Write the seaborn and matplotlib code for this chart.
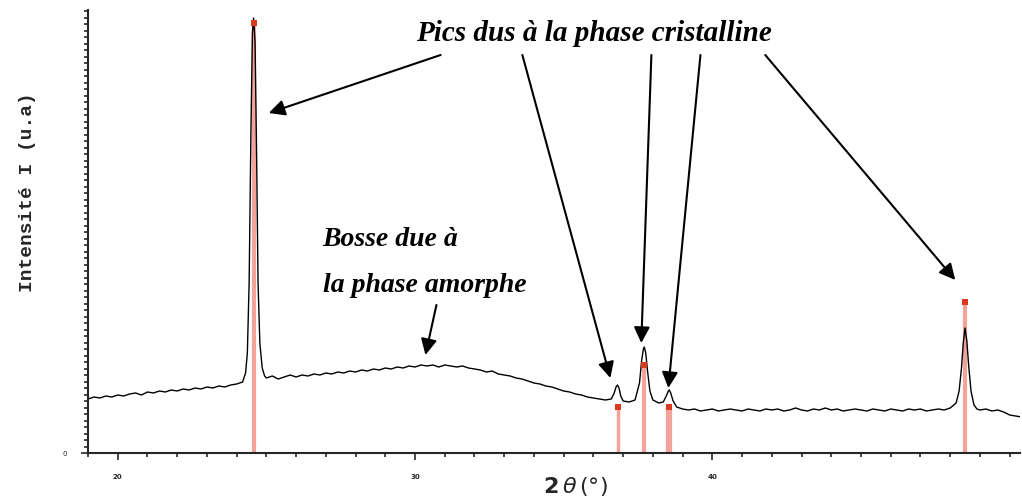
import numpy as np
import pandas as pd
import matplotlib
matplotlib.use("Agg")
import matplotlib.pyplot as plt
import seaborn as sns

# diffractogram: 2theta (deg) and intensity (arb. units)
two_theta = [
    19.0, 19.2, 19.4, 19.6, 19.8, 20.0, 20.2, 20.4, 20.6, 20.8,
    21.0, 21.2, 21.4, 21.6, 21.8, 22.0, 22.2, 22.4, 22.6, 22.8,
    23.0, 23.2, 23.4, 23.6, 23.8, 24.0, 24.2,
    24.3, 24.36, 24.42, 24.48, 24.53, 24.57, 24.62, 24.67, 24.72, 24.78, 24.86, 24.94,
    25.0, 25.2, 25.4, 25.6, 25.8, 26.0, 26.2, 26.4, 26.6, 26.8,
    27.0, 27.2, 27.4, 27.6, 27.8, 28.0, 28.2, 28.4, 28.6, 28.8,
    29.0, 29.2, 29.4, 29.6, 29.8, 30.0, 30.2, 30.4, 30.6, 30.8,
    31.0, 31.2, 31.4, 31.6, 31.8, 32.0, 32.2, 32.4, 32.6, 32.8,
    33.0, 33.2, 33.4, 33.6, 33.8, 34.0, 34.2, 34.4, 34.6, 34.8,
    35.0, 35.2, 35.4, 35.6, 35.8, 36.0, 36.2, 36.4, 36.6,
    36.7, 36.76, 36.81, 36.86, 36.92, 37.0, 37.2, 37.4,
    37.55, 37.62, 37.68, 37.71, 37.76, 37.82, 37.9, 38.0, 38.2, 38.35,
    38.45, 38.52, 38.55, 38.6, 38.68, 38.8, 39.0,
    39.2, 39.4, 39.6, 39.8, 40.0, 40.2, 40.4, 40.6, 40.8,
    41.0, 41.2, 41.4, 41.6, 41.8, 42.0, 42.2, 42.4, 42.6, 42.8,
    43.0, 43.2, 43.4, 43.6, 43.8, 44.0, 44.2, 44.4, 44.6, 44.8,
    45.0, 45.2, 45.4, 45.6, 45.8, 46.0, 46.2, 46.4, 46.6, 46.8,
    47.0, 47.2, 47.4, 47.6, 47.8, 48.0, 48.2,
    48.3, 48.38, 48.44, 48.5, 48.56, 48.62, 48.7, 48.8, 48.9,
    49.0, 49.2, 49.4, 49.6, 49.8, 50.0, 50.2, 50.4,
]
intensity = [
    54, 56, 55, 57, 56, 58, 57, 59, 60, 58,
    61, 60, 62, 61, 63, 62, 64, 63, 65, 64,
    66, 65, 67, 66, 68, 69, 71,
    80, 100, 170, 320, 420, 435, 410, 300, 170, 110, 85, 77,
    75, 77, 74, 76, 78, 76, 78, 77, 79, 78,
    80, 79, 81, 80, 82, 81, 83, 82, 84, 83,
    85, 84, 86, 85, 87, 86, 88, 87, 88, 86,
    88, 87, 86, 87, 85, 84, 83, 81, 82, 79,
    78, 77, 75, 74, 72, 70, 69, 67, 66, 64,
    62, 61, 59, 58, 56, 55, 54, 53, 54,
    60, 66, 68, 65, 57, 52, 51, 53,
    70, 92, 104, 106, 100, 82, 62, 53, 50, 51,
    57, 62, 63, 60, 52, 46, 44,
    43, 44, 42, 43, 44, 42, 43, 44, 43,
    42, 44, 43, 42, 44, 43, 44, 42, 43, 45,
    43, 42, 44, 43, 45, 43, 44, 42, 43, 44,
    43, 42, 44, 43, 42, 44, 43, 42, 44, 43,
    44, 42, 43, 44, 43, 45, 50,
    62, 85, 110, 125, 112, 88, 62, 48, 44,
    43, 44, 42, 43, 41, 38, 37, 36,
]

# reference pattern sticks (red lines with a dot on top)
stick_pos = [24.57, 36.81, 37.71, 38.55, 48.5]
stick_top = [430, 46, 88, 46, 151]
stick_width = [3, 2.5, 3, 4.5, 3]

x_ticks = [20, 30, 40]
x_tick_labels = ["20", "30", "40"]

df = pd.DataFrame({"two_theta": two_theta, "intensity": intensity})
sticks = pd.DataFrame({"pos": stick_pos, "top": stick_top})

sns.set_style("ticks")
fig = plt.figure(figsize=(10.22, 5.0), dpi=100)
ax = fig.add_axes([0.0861, 0.094, 0.912, 0.886])

for p, t, w in zip(stick_pos, stick_top, stick_width):
    ax.vlines(p, 0, t, color="#f4a39b", lw=w, zorder=1)

sns.lineplot(data=df, x="two_theta", y="intensity", color="black", lw=1.0,
             ax=ax, zorder=2, estimator=None, sort=False)
sns.scatterplot(data=sticks, x="pos", y="top", color="#dc3a1e", marker="s",
                s=14, linewidth=0, ax=ax, zorder=3)

ax.set_xlim(19.03, 50.35)
ax.set_ylim(0, 443)
sns.despine(ax=ax)
ax.spines["left"].set_linewidth(1.5)
ax.spines["bottom"].set_linewidth(1.5)

ax.set_xticks(x_ticks)
ax.set_xticklabels(x_tick_labels, fontsize=5, fontweight="bold")
ax.set_xticks(np.arange(19, 51, 1), minor=True)
ax.set_yticks([0])
ax.set_yticklabels(["0"], fontsize=5)
ax.set_yticks(np.arange(0, 443, 6.5), minor=True)
ax.tick_params(axis="both", which="major", length=5, width=1.2, pad=10)
ax.tick_params(axis="both", which="minor", length=3, width=1.2)
ax.set_xlabel("")
ax.set_ylabel("")

# labels
fig.text(0.027, 1 - 192 / 500, "Intensité I (u.a)", rotation=90,
         ha="center", va="center", family="Liberation Mono",
         fontweight="bold", fontsize=14)
fig.text(575 / 1022, 1 - 487 / 500, r"$\mathbf{2}\,\theta\,(°)$",
         ha="center", va="center", fontsize=16)

serif = dict(family="Liberation Serif", fontweight="bold", style="italic",
             color="black")
ax.text(36.0, 420, "Pics dus à la phase cristalline", ha="center",
        va="center", fontsize=21, **serif)
ax.text(26.89, 213, "Bosse due à", ha="left", va="center", fontsize=20, **serif)
ax.text(26.89, 168, "la phase amorphe", ha="left", va="center", fontsize=20,
        **serif)

arrow = dict(arrowstyle="-|>", color="black", lw=1.5, mutation_scale=24,
             shrinkA=0, shrinkB=0)
arrows = [
    ((30.86, 398), (25.08, 340)),
    ((33.61, 398), (36.57, 75)),
    ((37.95, 398), (37.61, 110)),
    ((39.60, 398), (38.52, 65)),
    ((41.78, 398), (48.17, 173)),
    ((30.72, 148), (30.35, 98)),
]
for start, end in arrows:
    ax.annotate("", xy=end, xytext=start, arrowprops=arrow)

fig.savefig("out.png", dpi=100)
